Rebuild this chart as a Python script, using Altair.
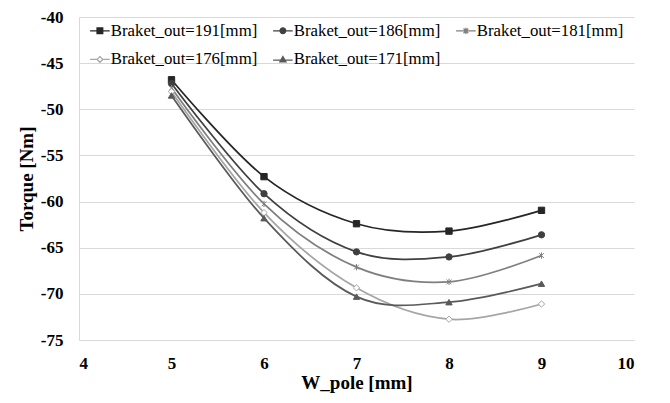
import altair as alt
import pandas as pd

# ---- data ----
w_pole = [5, 6, 7, 8, 9]
series_names = [
    "Braket_out=191[mm]",
    "Braket_out=186[mm]",
    "Braket_out=181[mm]",
    "Braket_out=176[mm]",
    "Braket_out=171[mm]",
]
torque_191 = [-46.8, -57.3, -62.4, -63.2, -60.95]
torque_186 = [-47.2, -59.15, -65.45, -66.0, -63.6]
torque_181 = [-47.7, -60.25, -67.1, -68.7, -65.85]
torque_176 = [-48.1, -61.2, -69.35, -72.75, -71.1]
torque_171 = [-48.5, -61.8, -70.3, -70.9, -68.9]

x_ticks = [4, 5, 6, 7, 8, 9, 10]
y_ticks = [-75, -70, -65, -60, -55, -50, -45, -40]

# ---- styles ----
stroke_colors = ["#262626", "#404040", "#7f7f7f", "#a6a6a6", "#5a5a5a"]
fill_colors = ["#262626", "#404040", "#7f7f7f", "#ffffff", "#5a5a5a"]
asterisk = "M-0.75,-0.75L0.75,0.75M-0.75,0.75L0.75,-0.75M0,-1L0,1"
plot_shapes = ["square", "circle", asterisk, "diamond", "triangle-up"]

# legend symbols: marker with a short line through it (Excel style)
legend_paths = [
    "M-3.1,0L3.1,0M-0.9,-0.9L0.9,-0.9L0.9,0.9L-0.9,0.9Z",
    "M-3.1,0L3.1,0M0.9,0A0.9,0.9,0,1,1,-0.9,0A0.9,0.9,0,1,1,0.9,0Z",
    "M-3.1,0L3.1,0M-0.75,-0.75L0.75,0.75M-0.75,0.75L0.75,-0.75M0,-1L0,1",
    "M-3.1,0L-0.9,0M0.9,0L3.1,0M0,-0.9L0.9,0L0,0.9L-0.9,0Z",
    "M-3.1,0.2L3.1,0.2M0,-0.9L0.95,0.75L-0.95,0.75Z",
]

all_series = [torque_191, torque_186, torque_181, torque_176, torque_171]
rows = []
for name, vals in zip(series_names, all_series):
    for x, y in zip(w_pole, vals):
        rows.append({"series": name, "w_pole": x, "torque": y})
df = pd.DataFrame(rows)

FONT = "Liberation Serif"

axis_common = dict(
    labelFont=FONT,
    labelFontWeight="bold",
    labelFontSize=17,
    labelColor="black",
    titleFont=FONT,
    titleFontWeight="bold",
    titleFontSize=19,
    titleColor="black",
    labelExpr="toString(datum.value)",
)

x_enc = alt.X(
    "w_pole:Q",
    scale=alt.Scale(domain=[4, 10], nice=False),
    axis=alt.Axis(values=x_ticks, title="W_pole [mm]", grid=False,
                  labelPadding=15, titlePadding=2, **axis_common),
)
y_enc = alt.Y(
    "torque:Q",
    scale=alt.Scale(domain=[-75, -40], nice=False),
    axis=alt.Axis(values=y_ticks, title="Torque [Nm]",
                  labelPadding=16, titlePadding=4, **axis_common),
)

stroke_scale = alt.Scale(domain=series_names, range=stroke_colors)
fill_scale = alt.Scale(domain=series_names, range=fill_colors)
legend_shape_scale = alt.Scale(domain=series_names, range=legend_paths)

legend = alt.Legend(
    title=None,
    orient="none",
    legendX=12.5,
    legendY=5,
    columns=3,
    direction="horizontal",
    labelFont=FONT,
    labelFontSize=16.8,
    labelColor="black",
    labelLimit=0,
    labelOffset=2.5,
    symbolSize=40,
    symbolStrokeWidth=1.3,
    columnPadding=12,
    rowPadding=11,
)

base = alt.Chart(df)

lines = base.mark_line(interpolate="cardinal", strokeWidth=1.75).encode(
    x=x_enc,
    y=y_enc,
    stroke=alt.Stroke("series:N", scale=stroke_scale, legend=legend),
    detail="series:N",
    order=alt.Order("w_pole:Q"),
)

point_layers = []
for name, shp in zip(series_names, plot_shapes):
    point_layers.append(
        base.transform_filter(alt.datum.series == name)
        .mark_point(filled=True, opacity=1, size=40, strokeWidth=1)
        .encode(
            x=x_enc,
            y=y_enc,
            stroke=alt.Stroke("series:N", scale=stroke_scale, legend=legend),
            fill=alt.Fill("series:N", scale=fill_scale, legend=legend),
            shape=alt.value(shp),
        )
    )

# legend-only layer: supplies the Excel-like legend symbols, its marks are clipped away
legend_layer = base.mark_point(
    filled=True, opacity=1, size=40, strokeWidth=1.3, clip=True
).encode(
    x=alt.value(-200),
    y=alt.value(-200),
    stroke=alt.Stroke("series:N", scale=stroke_scale, legend=legend),
    fill=alt.Fill("series:N", scale=fill_scale, legend=legend),
    shape=alt.Shape("series:N", scale=legend_shape_scale, legend=legend),
)

chart = (
    alt.layer(lines, *point_layers, legend_layer)
    .properties(
        width=555,
        height=323,
        autosize=alt.AutoSizeParams(type="none"),
        padding={"left": 71, "top": 9, "right": 20, "bottom": 55},
    )
    .configure_view(stroke=None)
    .configure_axis(
        domainColor="#d9d9d9",
        gridColor="#d9d9d9",
        gridWidth=1,
        ticks=False,
        labelFont=FONT,
        titleFont=FONT,
    )
)

chart.save("out.html", embed_options={"renderer": "svg", "actions": False})
